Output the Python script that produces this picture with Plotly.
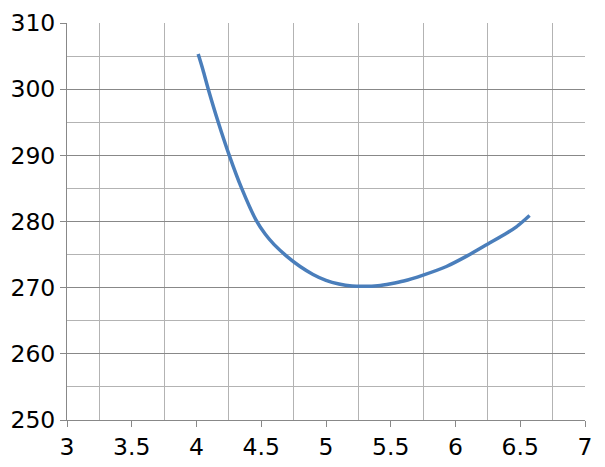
import plotly.graph_objects as go

x_vals = [4.013, 4.05, 4.091, 4.168, 4.253, 4.349, 4.46, 4.53, 4.60, 4.70,
          4.80, 4.90, 5.00, 5.10, 5.20, 5.30, 5.40, 5.50, 5.60, 5.75,
          5.93, 6.09, 6.25, 6.40, 6.47, 6.52, 6.572]
y_vals = [305.3, 302.9, 300.0, 295.0, 290.0, 285.0, 280.2, 278.1, 276.5, 274.7,
          273.2, 272.0, 271.1, 270.55, 270.25, 270.2, 270.3, 270.6, 271.0, 271.9,
          273.2, 274.8, 276.6, 278.3, 279.2, 280.0, 280.9]

x_ticks = [3, 3.5, 4, 4.5, 5, 5.5, 6, 6.5, 7]
x_tick_labels = ["3", "3.5", "4", "4.5", "5", "5.5", "6", "6.5", "7"]
y_ticks = [250, 260, 270, 280, 290, 300, 310]

fig = go.Figure()
fig.add_trace(go.Scatter(x=x_vals, y=y_vals, mode="lines",
                         line=dict(color="#4a7ebb", width=3.5, shape="spline",
                                   smoothing=0.8),
                         showlegend=False, hoverinfo="skip"))

fig.update_layout(
    width=597, height=459,
    margin=dict(l=59, r=20, t=15, b=47),
    paper_bgcolor="white", plot_bgcolor="white",
    font=dict(family="DejaVu Sans", size=23.5, color="black"),
    xaxis=dict(range=[3, 7], tickvals=x_ticks, ticktext=x_tick_labels,
               ticks="outside", ticklen=6, tickcolor="#888888", tickwidth=1,
               showline=True, linecolor="#888888", linewidth=1,
               showgrid=False, zeroline=False, automargin=False,
               minor=dict(tick0=3.25, dtick=0.5, showgrid=True,
                          gridcolor="#b3b3b3", gridwidth=1, ticks="")),
    yaxis=dict(range=[250, 310], tickvals=y_ticks,
               ticks="outside", ticklen=6, tickcolor="#888888", tickwidth=1,
               showline=True, linecolor="#888888", linewidth=1,
               showgrid=True, gridcolor="#888888", gridwidth=1, zeroline=False,
               automargin=False,
               minor=dict(tick0=255, dtick=10, showgrid=True,
                          gridcolor="#b3b3b3", gridwidth=1, ticks="")),
)

fig.write_html("out.html")
